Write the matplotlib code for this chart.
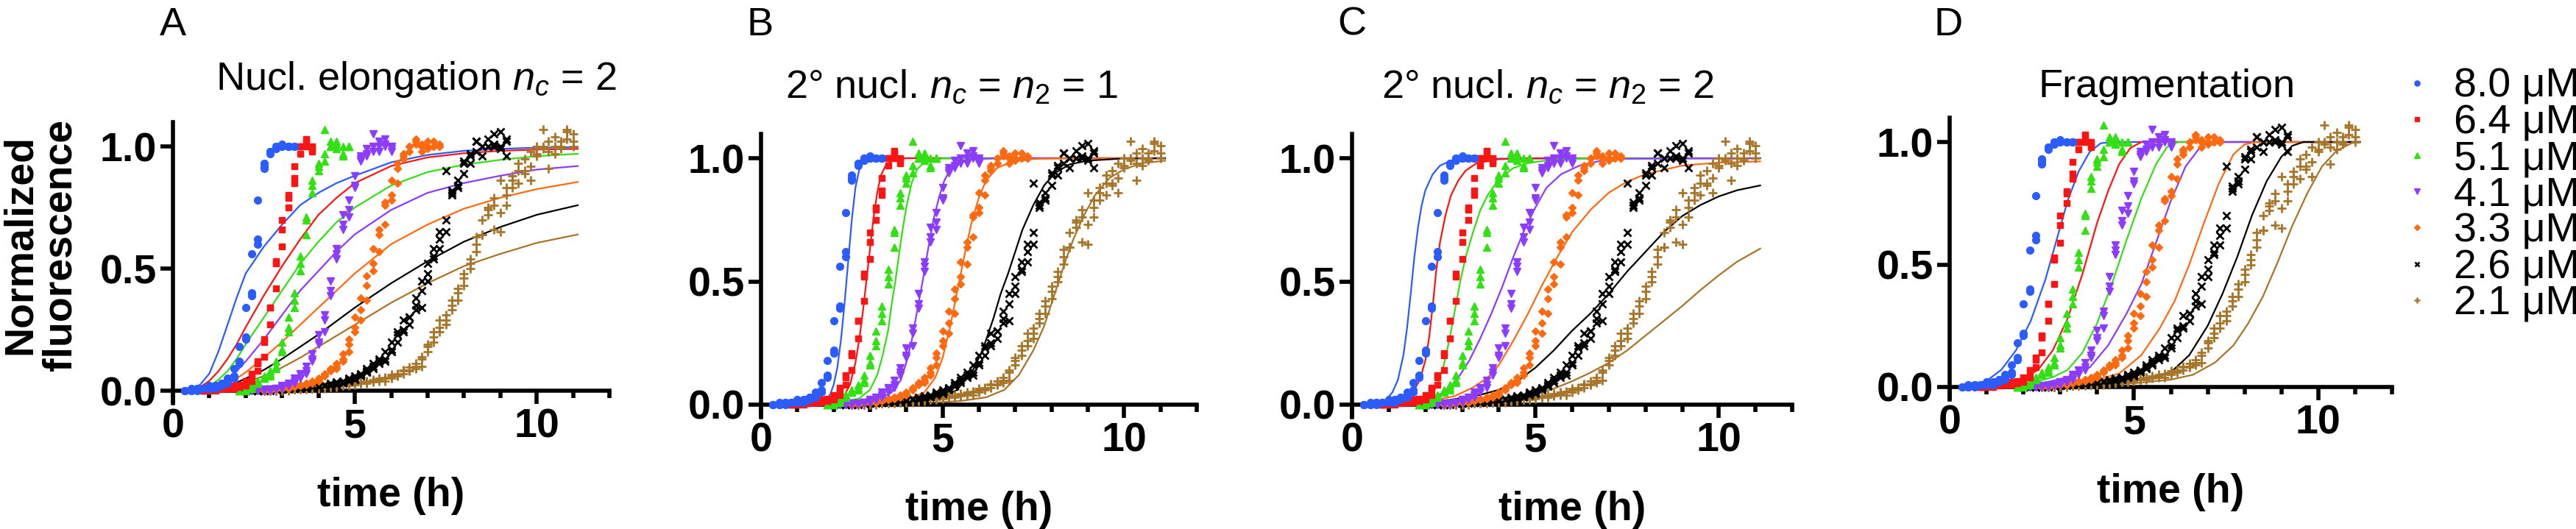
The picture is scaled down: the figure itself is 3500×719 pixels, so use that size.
import matplotlib
matplotlib.use("Agg")
import matplotlib.pyplot as plt
from matplotlib.lines import Line2D
from matplotlib.ticker import FixedLocator, MultipleLocator, FormatStrFormatter

plt.rcParams['font.family'] = ['Liberation Sans', 'DejaVu Sans']
plt.rcParams['mathtext.fontset'] = 'custom'
plt.rcParams['mathtext.rm'] = 'Liberation Sans'
plt.rcParams['mathtext.it'] = 'Liberation Sans:italic'
plt.rcParams['mathtext.bf'] = 'Liberation Sans:bold'

# ---------------- data ----------------
labels = ['8.0 μM', '6.4 μM', '5.1 μM', '4.1 μM', '3.3 μM', '2.6 μM', '2.1 μM']
colors = ['#2A5CFF', '#FF1414', '#33E014', '#8C3CFF', '#FF6A10', '#000000', '#A87528']
markers = ['o', 's', '^', 'v', 'D', 'x', '+']

# sampling grid (h)
time_h = [0.33, 0.5, 0.67, 0.83, 1.0, 1.17, 1.33, 1.5, 1.67, 1.83, 2.0, 2.17, 2.33, 2.5, 2.67,
          2.83, 3.0, 3.17, 3.33, 3.5, 3.67, 3.83, 4.0, 4.17, 4.33, 4.5, 4.67, 4.83, 5.0, 5.17,
          5.33, 5.5, 5.67, 5.83, 6.0, 6.17, 6.33, 6.5, 6.67, 6.83, 7.0, 7.17, 7.33, 7.5, 7.67,
          7.83, 8.0, 8.17, 8.33, 8.5, 8.67, 8.83, 9.0, 9.17, 9.33, 9.5, 9.67, 9.83, 10.0, 10.17,
          10.33, 10.5, 10.67, 10.83, 11.0]
start_h = [0.33, 0.83, 1.83, 2.0, 2.5, 2.0, 2.5]

blue_r1 = [0, 0, 0, 0.01, 0.01, 0.01, 0.02, 0.03, 0.05, 0.11, 0.21, 0.39, 0.60, 0.91, 0.97, 1.0, 1.0, 1.0, 1.0]
blue_r2 = [0, 0, 0.01, 0.01, 0.01, 0.02, 0.03, 0.04, 0.06, 0.12, 0.22, 0.40, 0.62, 0.92, 0.98, 1.0, 1.01, 1.0, 1.0]
blue_r3 = [0, 0.01, 0.01, 0.01, 0.02, 0.02, 0.03, 0.05, 0.09, 0.18, 0.34, 0.56, 0.78, 0.93, 0.98, 0.99, 1.0, 1.0, 1.0]

red_r1 = [0, 0, 0, 0.005, 0.01, 0.01, 0.015, 0.02, 0.04, 0.08, 0.14, 0.27, 0.42, 0.59, 0.75, 0.85, 0.97, 1.0, 0.99]
red_r2 = [0, 0, 0.005, 0.01, 0.01, 0.015, 0.02, 0.03, 0.06, 0.11, 0.20, 0.34, 0.52, 0.70, 0.79, 0.87, 1.0, 1.02, 0.98]
red_r3 = [0, 0.005, 0.005, 0.01, 0.01, 0.02, 0.025, 0.04, 0.07, 0.12, 0.21, 0.34, 0.53, 0.66, 0.80, 0.92, 1.0, 1.03, 1.0]

green_r1 = [0, 0, 0.01, 0.03, 0.05, 0.06, 0.09, 0.16, 0.24, 0.34, 0.49, 0.64, 0.81, 0.90, 0.94, 1.0, 1.02, 0.96, 1.0]
green_r2 = [0, 0.005, 0.02, 0.04, 0.05, 0.07, 0.10, 0.17, 0.26, 0.37, 0.52, 0.70, 0.86, 0.92, 1.07, 1.02, 0.99, 1.0, 1.0]
green_r3 = [0, 0.01, 0.02, 0.04, 0.06, 0.08, 0.12, 0.20, 0.30, 0.40, 0.55, 0.71, 0.84, 0.93, 0.97, 1.0, 1.01, 0.97, 1.0]

purple_r1 = [0, 0, 0, 0, 0, 0.005, 0.01, 0.02, 0.03, 0.05, 0.07, 0.12, 0.19, 0.24, 0.39, 0.54, 0.66, 0.71,
             0.83, 0.94, 0.97, 0.98, 1.02, 1.0, 1.0]
purple_r2 = [0, 0, 0, 0, 0.005, 0.01, 0.015, 0.02, 0.04, 0.065, 0.08, 0.13, 0.20, 0.29, 0.41, 0.56, 0.68,
             0.74, 0.84, 0.95, 0.96, 1.0, 0.98, 1.03, 0.99]
purple_r3 = [0, 0, 0, 0.005, 0.005, 0.01, 0.02, 0.03, 0.05, 0.07, 0.10, 0.15, 0.23, 0.31, 0.45, 0.58, 0.72,
             0.78, 0.88, 0.96, 0.99, 1.05, 1.0, 1.01, 0.98]

orange_r1 = [0, 0, 0.005, 0.01, 0.01, 0.015, 0.02, 0.025, 0.03, 0.04, 0.06, 0.08, 0.09, 0.12, 0.16, 0.24,
             0.29, 0.37, 0.49, 0.57, 0.68, 0.78, 0.85, 0.97, 0.98, 1.01, 1.0, 1.02, 1.0, 1.0]
orange_r2 = [0, 0.005, 0.01, 0.01, 0.015, 0.02, 0.025, 0.03, 0.04, 0.05, 0.07, 0.09, 0.10, 0.13, 0.19, 0.26,
             0.33, 0.43, 0.52, 0.64, 0.76, 0.80, 0.93, 0.95, 1.0, 1.03, 0.98, 1.0, 1.02, 1.0]
orange_r3 = [0, 0, 0.005, 0.01, 0.01, 0.02, 0.02, 0.03, 0.035, 0.045, 0.065, 0.085, 0.11, 0.15, 0.21, 0.30,
             0.38, 0.47, 0.58, 0.66, 0.77, 0.86, 0.91, 0.96, 1.0, 1.02, 1.01, 0.99, 1.0, 1.01]

black_r1 = [0, 0, 0, 0, 0, 0.005, 0.005, 0.005, 0.01, 0.01, 0.01, 0.015, 0.015, 0.02, 0.02, 0.025, 0.03,
            0.04, 0.045, 0.06, 0.075, 0.09, 0.11, 0.13, 0.16, 0.20, 0.24, 0.27, 0.35, 0.34, 0.48, 0.54,
            0.62, 0.65, 0.80, 0.83, 0.93, 0.93, 1.02, 0.96, 1.03, 1.0, 1.06, 0.96]
black_r2 = [0, 0, 0, 0, 0.005, 0.005, 0.005, 0.01, 0.01, 0.01, 0.015, 0.015, 0.02, 0.02, 0.025, 0.03,
            0.035, 0.045, 0.05, 0.065, 0.08, 0.10, 0.12, 0.12, 0.20, 0.23, 0.29, 0.30, 0.38, 0.45, 0.45,
            0.58, 0.65, 0.70, 0.81, 0.86, 0.94, 0.96, 1.02, 1.0, 1.0, 1.01, 0.99, 1.02]
black_r3 = [0, 0, 0, 0.005, 0.005, 0.005, 0.01, 0.01, 0.01, 0.015, 0.015, 0.02, 0.02, 0.025, 0.03, 0.035,
            0.04, 0.05, 0.06, 0.07, 0.09, 0.11, 0.13, 0.16, 0.17, 0.24, 0.25, 0.30, 0.33, 0.41, 0.52, 0.55,
            0.58, 0.90, 0.82, 0.84, 0.89, 0.97, 0.98, 1.0, 1.0, 1.05, 1.0, 1.03]

brown_r1 = [0, 0, 0, 0, 0, 0.005, 0.005, 0.005, 0.01, 0.01, 0.01, 0.015, 0.015, 0.02, 0.02, 0.025, 0.03,
            0.03, 0.035, 0.04, 0.04, 0.05, 0.06, 0.07, 0.08, 0.09, 0.10, 0.16, 0.20, 0.24, 0.27, 0.33,
            0.37, 0.43, 0.50, 0.57, 0.64, 0.72, 0.66, 0.73, 0.76, 0.83, 0.90, 0.89, 0.98, 0.96, 1.07,
            0.91, 0.97, 1.0, 1.07, 1.05]
brown_r2 = [0, 0, 0, 0, 0.005, 0.005, 0.005, 0.01, 0.01, 0.01, 0.015, 0.015, 0.02, 0.02, 0.025, 0.03,
            0.03, 0.035, 0.04, 0.045, 0.05, 0.06, 0.065, 0.08, 0.085, 0.10, 0.13, 0.19, 0.24, 0.29, 0.29,
            0.37, 0.40, 0.46, 0.54, 0.60, 0.64, 0.74, 0.76, 0.65, 0.83, 0.86, 0.85, 0.90, 0.86, 0.97,
            1.0, 0.98, 1.0, 1.02, 1.03, 1.0]
brown_r3 = [0, 0, 0, 0.005, 0.005, 0.005, 0.01, 0.01, 0.01, 0.015, 0.015, 0.02, 0.02, 0.025, 0.025, 0.03,
            0.035, 0.04, 0.045, 0.05, 0.055, 0.065, 0.07, 0.085, 0.095, 0.11, 0.14, 0.18, 0.22, 0.26,
            0.31, 0.35, 0.42, 0.48, 0.52, 0.63, 0.70, 0.75, 0.79, 0.86, 0.80, 0.88, 0.93, 0.95, 0.92,
            1.0, 0.99, 1.02, 1.04, 0.99, 1.06, 1.02]

replicates = [[blue_r1, blue_r2, blue_r3], [red_r1, red_r2, red_r3], [green_r1, green_r2, green_r3],
              [purple_r1, purple_r2, purple_r3], [orange_r1, orange_r2, orange_r3],
              [black_r1, black_r2, black_r3], [brown_r1, brown_r2, brown_r3]]

# ---- fitted curves, panel A (nucleated elongation) ----
fitA_t = [0.25, 0.5, 0.75, 1.0, 1.25, 1.5, 1.75, 2.0, 2.5, 3.0, 3.5, 4.0, 4.5, 5.0, 6.0, 7.0, 8.0, 9.0, 10.0, 11.15]
fitA_blue = [0, 0.005, 0.025, 0.07, 0.16, 0.27, 0.38, 0.48, 0.59, 0.68, 0.76, 0.81, 0.85, 0.88, 0.935, 0.965, 0.982, 0.99, 0.995, 0.997]
fitA_red = [0, 0.003, 0.015, 0.04, 0.08, 0.13, 0.19, 0.26, 0.39, 0.51, 0.62, 0.72, 0.79, 0.85, 0.92, 0.955, 0.972, 0.982, 0.987, 0.99]
fitA_green = [0, 0.002, 0.008, 0.02, 0.045, 0.08, 0.13, 0.19, 0.30, 0.41, 0.52, 0.61, 0.69, 0.75, 0.84, 0.895, 0.925, 0.945, 0.96, 0.97]
fitA_purple = [0, 0.001, 0.005, 0.012, 0.028, 0.05, 0.08, 0.12, 0.21, 0.31, 0.41, 0.49, 0.57, 0.64, 0.74, 0.81, 0.85, 0.88, 0.905, 0.92]
fitA_orange = [0, 0.001, 0.003, 0.008, 0.017, 0.03, 0.05, 0.075, 0.135, 0.20, 0.27, 0.34, 0.41, 0.48, 0.60, 0.68, 0.745, 0.79, 0.825, 0.855]
fitA_black = [0, 0.001, 0.002, 0.005, 0.011, 0.02, 0.033, 0.05, 0.085, 0.13, 0.18, 0.23, 0.285, 0.34, 0.44, 0.53, 0.61, 0.67, 0.72, 0.76]
fitA_brown = [0, 0.0005, 0.002, 0.004, 0.008, 0.015, 0.024, 0.035, 0.06, 0.095, 0.135, 0.18, 0.225, 0.27, 0.36, 0.44, 0.51, 0.56, 0.605, 0.64]

# ---- panel B (secondary nucleation nc = n2 = 1) ----
fitB_blue_t = [0.25, 1.5, 1.8, 1.9, 2.0, 2.1, 2.2, 2.3, 2.4, 2.5, 2.6, 2.7, 2.8, 3.0, 3.3, 11.15]
fitB_blue_y = [0, 0.005, 0.02, 0.04, 0.08, 0.15, 0.26, 0.41, 0.58, 0.75, 0.88, 0.95, 0.98, 0.995, 1.0, 1.0]
fitB_red_t = [0.25, 1.5, 2.0, 2.3, 2.45, 2.6, 2.7, 2.8, 2.9, 3.0, 3.1, 3.2, 3.3, 3.45, 3.7, 4.0, 11.15]
fitB_red_y = [0, 0.003, 0.015, 0.04, 0.08, 0.17, 0.26, 0.37, 0.5, 0.63, 0.76, 0.86, 0.93, 0.975, 0.995, 1.0, 1.0]
fitB_green_t = [0.25, 2.0, 2.7, 3.0, 3.2, 3.35, 3.5, 3.6, 3.7, 3.8, 3.9, 4.0, 4.15, 4.3, 4.5, 5.0, 11.15]
fitB_green_y = [0, 0.005, 0.025, 0.06, 0.12, 0.2, 0.3, 0.41, 0.5, 0.61, 0.71, 0.8, 0.9, 0.955, 0.985, 0.999, 1.0]
fitB_purple_t = [0.25, 2.5, 3.3, 3.6, 3.85, 4.0, 4.15, 4.3, 4.45, 4.6, 4.75, 4.9, 5.05, 5.2, 5.45, 5.8, 6.5, 11.15]
fitB_purple_y = [0, 0.005, 0.025, 0.05, 0.1, 0.17, 0.26, 0.38, 0.5, 0.63, 0.75, 0.84, 0.91, 0.95, 0.98, 0.995, 1.0, 1.0]
fitB_orange_t = [0.25, 3.0, 4.0, 4.5, 4.8, 5.0, 5.2, 5.35, 5.5, 5.65, 5.8, 6.0, 6.2, 6.5, 6.9, 7.5, 8.5, 11.15]
fitB_orange_y = [0, 0.004, 0.02, 0.05, 0.11, 0.19, 0.31, 0.42, 0.53, 0.64, 0.74, 0.84, 0.91, 0.96, 0.985, 0.997, 1.0, 1.0]
fitB_black_t = [0.25, 3.5, 4.5, 5.0, 5.4, 5.8, 6.1, 6.4, 6.6, 6.8, 7.0, 7.2, 7.5, 7.8, 8.1, 8.5, 9.0, 10.0, 11.15]
fitB_black_y = [0, 0.003, 0.015, 0.03, 0.06, 0.13, 0.22, 0.35, 0.45, 0.53, 0.62, 0.71, 0.81, 0.89, 0.94, 0.975, 0.99, 0.999, 1.0]
fitB_brown_t = [0.25, 4.0, 5.5, 6.2, 6.7, 7.1, 7.5, 7.8, 8.0, 8.2, 8.4, 8.6, 8.9, 9.2, 9.6, 10.0, 10.5, 11.15]
fitB_brown_y = [0, 0.002, 0.015, 0.03, 0.06, 0.12, 0.22, 0.32, 0.41, 0.5, 0.59, 0.67, 0.77, 0.85, 0.92, 0.955, 0.98, 0.99]

# ---- panel C (secondary nucleation nc = n2 = 2) ----
fitC_blue_t = [0.25, 0.6, 0.9, 1.1, 1.25, 1.4, 1.5, 1.6, 1.7, 1.8, 1.9, 2.0, 2.2, 2.4, 2.7, 3.2, 11.15]
fitC_blue_y = [0, 0.003, 0.015, 0.05, 0.1, 0.2, 0.31, 0.45, 0.6, 0.72, 0.81, 0.87, 0.935, 0.97, 0.99, 0.998, 1.0]
fitC_red_t = [0.25, 0.8, 1.3, 1.65, 1.85, 2.0, 2.1, 2.2, 2.3, 2.4, 2.55, 2.7, 2.9, 3.1, 3.4, 4.0, 5.0, 11.15]
fitC_red_y = [0, 0.003, 0.015, 0.05, 0.1, 0.18, 0.27, 0.4, 0.55, 0.66, 0.77, 0.85, 0.91, 0.95, 0.98, 0.996, 1.0, 1.0]
fitC_green_t = [0.25, 1.0, 1.6, 2.0, 2.3, 2.5, 2.65, 2.8, 2.95, 3.1, 3.3, 3.5, 3.7, 4.0, 4.4, 4.8, 5.5, 6.5, 11.15]
fitC_green_y = [0, 0.002, 0.01, 0.025, 0.07, 0.16, 0.26, 0.38, 0.5, 0.6, 0.7, 0.79, 0.85, 0.915, 0.96, 0.98, 0.995, 1.0, 1.0]
fitC_purple_t = [0.25, 1.5, 2.2, 2.6, 2.9, 3.2, 3.5, 3.8, 4.1, 4.4, 4.7, 5.0, 5.3, 5.7, 6.2, 6.8, 7.5, 11.15]
fitC_purple_y = [0, 0.005, 0.025, 0.06, 0.11, 0.18, 0.27, 0.37, 0.48, 0.6, 0.71, 0.8, 0.88, 0.935, 0.97, 0.99, 0.998, 1.0]
fitC_orange_t = [0.25, 2.0, 2.8, 3.3, 3.7, 4.0, 4.4, 4.8, 5.2, 5.6, 6.0, 6.5, 7.0, 7.5, 8.0, 9.0, 10.0, 11.15]
fitC_orange_y = [0, 0.01, 0.035, 0.07, 0.11, 0.16, 0.26, 0.37, 0.49, 0.6, 0.7, 0.79, 0.86, 0.905, 0.935, 0.97, 0.982, 0.987]
fitC_black_t = [0.25, 1.5, 2.5, 3.5, 4.0, 4.5, 5.0, 5.5, 6.0, 6.5, 7.0, 7.5, 8.0, 8.5, 9.0, 9.5, 10.0, 10.5, 11.15]
fitC_black_y = [0, 0.004, 0.015, 0.04, 0.06, 0.095, 0.15, 0.22, 0.3, 0.37, 0.45, 0.54, 0.62, 0.7, 0.765, 0.81, 0.845, 0.87, 0.89]
fitC_brown_t = [0.25, 2.0, 3.0, 4.0, 5.0, 5.5, 6.0, 6.5, 7.0, 7.5, 8.0, 8.5, 9.0, 9.5, 10.0, 10.5, 11.15]
fitC_brown_y = [0, 0.003, 0.01, 0.022, 0.045, 0.065, 0.095, 0.13, 0.17, 0.22, 0.28, 0.34, 0.4, 0.465, 0.525, 0.58, 0.635]

# ---- panel D (fragmentation) ----
fitD_blue_t = [0.25, 0.6, 1.0, 1.4, 1.8, 2.2, 2.6, 2.9, 3.2, 3.5, 3.8, 4.1, 4.4, 11.15]
fitD_blue_y = [0, 0.005, 0.025, 0.07, 0.15, 0.27, 0.44, 0.6, 0.76, 0.88, 0.96, 0.995, 1.0, 1.0]
fitD_red_t = [0.25, 1.0, 1.5, 2.0, 2.4, 2.8, 3.2, 3.6, 4.0, 4.3, 4.6, 4.9, 5.2, 11.15]
fitD_red_y = [0, 0.005, 0.015, 0.035, 0.07, 0.15, 0.28, 0.46, 0.67, 0.8, 0.91, 0.975, 1.0, 1.0]
fitD_green_t = [0.25, 1.5, 2.3, 2.8, 3.2, 3.6, 4.0, 4.4, 4.8, 5.2, 5.6, 5.9, 6.2, 11.15]
fitD_green_y = [0, 0.005, 0.02, 0.04, 0.07, 0.14, 0.26, 0.42, 0.6, 0.77, 0.91, 0.98, 1.0, 1.0]
fitD_purple_t = [0.25, 1.5, 2.5, 3.2, 3.8, 4.3, 4.8, 5.2, 5.6, 6.0, 6.4, 6.8, 7.1, 11.15]
fitD_purple_y = [0, 0.004, 0.015, 0.04, 0.08, 0.17, 0.3, 0.42, 0.59, 0.76, 0.9, 0.98, 1.0, 1.0]
fitD_orange_t = [0.25, 2.0, 3.0, 4.0, 4.6, 5.2, 5.7, 6.1, 6.5, 6.9, 7.3, 7.7, 8.0, 8.3, 11.15]
fitD_orange_y = [0, 0.005, 0.015, 0.03, 0.055, 0.13, 0.24, 0.35, 0.5, 0.67, 0.83, 0.95, 0.99, 1.0, 1.0]
fitD_black_t = [0.25, 3.0, 4.5, 5.5, 6.0, 6.5, 7.0, 7.4, 7.8, 8.2, 8.6, 9.0, 9.3, 9.6, 11.15]
fitD_black_y = [0, 0.005, 0.02, 0.04, 0.06, 0.13, 0.25, 0.38, 0.53, 0.7, 0.84, 0.94, 0.985, 1.0, 1.0]
fitD_brown_t = [0.25, 3.5, 5.0, 6.0, 6.6, 7.2, 7.7, 8.1, 8.5, 8.9, 9.3, 9.7, 10.1, 10.5, 10.9, 11.15]
fitD_brown_y = [0, 0.005, 0.015, 0.03, 0.05, 0.1, 0.17, 0.26, 0.37, 0.51, 0.66, 0.79, 0.9, 0.965, 0.995, 1.0]

fits_A = [(fitA_t, fitA_blue), (fitA_t, fitA_red), (fitA_t, fitA_green), (fitA_t, fitA_purple),
          (fitA_t, fitA_orange), (fitA_t, fitA_black), (fitA_t, fitA_brown)]
fits_B = [(fitB_blue_t, fitB_blue_y), (fitB_red_t, fitB_red_y), (fitB_green_t, fitB_green_y),
          (fitB_purple_t, fitB_purple_y), (fitB_orange_t, fitB_orange_y), (fitB_black_t, fitB_black_y),
          (fitB_brown_t, fitB_brown_y)]
fits_C = [(fitC_blue_t, fitC_blue_y), (fitC_red_t, fitC_red_y), (fitC_green_t, fitC_green_y),
          (fitC_purple_t, fitC_purple_y), (fitC_orange_t, fitC_orange_y), (fitC_black_t, fitC_black_y),
          (fitC_brown_t, fitC_brown_y)]
fits_D = [(fitD_blue_t, fitD_blue_y), (fitD_red_t, fitD_red_y), (fitD_green_t, fitD_green_y),
          (fitD_purple_t, fitD_purple_y), (fitD_orange_t, fitD_orange_y), (fitD_black_t, fitD_black_y),
          (fitD_brown_t, fitD_brown_y)]

panel_letters = ['A', 'B', 'C', 'D']
panel_titles = ['Nucl. elongation $n_c$ = 2', '2° nucl. $n_c$ = $n_2$ = 1',
                '2° nucl. $n_c$ = $n_2$ = 2', 'Fragmentation']
x_ticks = [0, 5, 10]
y_ticks = [0.0, 0.5, 1.0]

# ---------------- layout (pixels) ----------------
W, H = 3500, 719
fig = plt.figure(figsize=(W / 100, H / 100), dpi=100)
XMAX, YMIN, YMAX = 12, -0.05, 1.1

# (x of t=0, x of t=12, y of value 0, y of value 1)
panel_px = [(235, 828, 531, 199), (1034, 1626, 550, 215), (1837, 2435, 550, 215), (2649, 3250, 526, 193)]
title_px = [(565, 122), (1293, 133), (2103, 133), (2944, 132)]
letter_px = [217, 1015, 1817, 2627]

ms = {'o': 7, 's': 6.3, '^': 7.5, 'v': 7.5, 'D': 5.2, 'x': 6.5, '+': 8}
mew = {'o': 1, 's': 1, '^': 1, 'v': 1, 'D': 1, 'x': 2.0, '+': 2.0}

all_fits = [fits_A, fits_B, fits_C, fits_D]
for p, (x0, x12, y0, y1) in enumerate(panel_px):
    unit = y0 - y1
    top = y0 - YMAX * unit
    bottom = y0 - YMIN * unit
    ax = fig.add_axes([x0 / W, 1 - bottom / H, (x12 - x0) / W, (bottom - top) / H])
    ax.set_xlim(0, XMAX)
    ax.set_ylim(YMIN, YMAX)
    for s in ['top', 'right']:
        ax.spines[s].set_visible(False)
    ax.spines['bottom'].set_position(('data', 0))
    for s in ['left', 'bottom']:
        ax.spines[s].set_linewidth(4)
    ax.patch.set_alpha(0)
    ax.xaxis.set_major_locator(FixedLocator(x_ticks))
    ax.xaxis.set_minor_locator(MultipleLocator(1))
    ax.yaxis.set_major_locator(FixedLocator(y_ticks))
    ax.xaxis.set_major_formatter(FormatStrFormatter('%d'))
    ax.yaxis.set_major_formatter(FormatStrFormatter('%.1f'))
    ax.tick_params(axis='x', which='major', length=13, width=4, labelsize=40, pad=4)
    ax.tick_params(axis='x', which='minor', length=7.5, width=4)
    ax.tick_params(axis='y', which='major', length=12, width=4, labelsize=40, pad=4)
    for lab in ax.get_xticklabels() + ax.get_yticklabels():
        lab.set_fontweight('bold')

    # fits
    for k in range(len(labels)):
        ft, fyv = all_fits[p][k]
        ax.plot(ft, fyv, color=colors[k], lw=1.6, zorder=2, solid_capstyle='butt')
    # data (blue on top)
    for k in reversed(range(len(labels))):
        i0 = time_h.index(start_h[k])
        m = markers[k]
        for rep in replicates[k]:
            tt = time_h[i0:i0 + len(rep)]
            ax.plot(tt, rep, ls='none', marker=m, ms=ms[m], color=colors[k], mec=colors[k],
                    mew=mew[m], zorder=3 + (7 - k) * 0.1, clip_on=False)

    # texts
    fig.text(letter_px[p] / W, 1 - 48 / H, panel_letters[p], fontsize=39, ha='left', va='baseline')
    tx, ty = title_px[p]
    fig.text(tx / W, 1 - ty / H, panel_titles[p], fontsize=39, ha='center', va='baseline')
    fig.text((x0 + x12) / 2 / W, 1 - (y0 + 157) / H, 'time (h)', fontsize=40, fontweight='bold',
             ha='center', va='baseline')

fig.text(55 / W, 1 - 333 / H, 'Normalized\nfluorescence', rotation=90, fontsize=40, fontweight='bold',
         ha='center', va='center', multialignment='center', linespacing=1.05)

handles = [Line2D([], [], ls='none', marker=markers[k], color=colors[k], mec=colors[k],
                  ms=ms[markers[k]] * 0.75, mew=mew[markers[k]] * 0.9) for k in range(len(labels))]
fig.legend(handles, labels, loc='upper left', bbox_to_anchor=(3262 / W, 1 - 92 / H), frameon=False,
           fontsize=40, handlelength=0.8, handletextpad=0.5, labelspacing=-0.05, borderpad=0,
           borderaxespad=0)

fig.savefig('out.png', dpi=100, facecolor='white')
